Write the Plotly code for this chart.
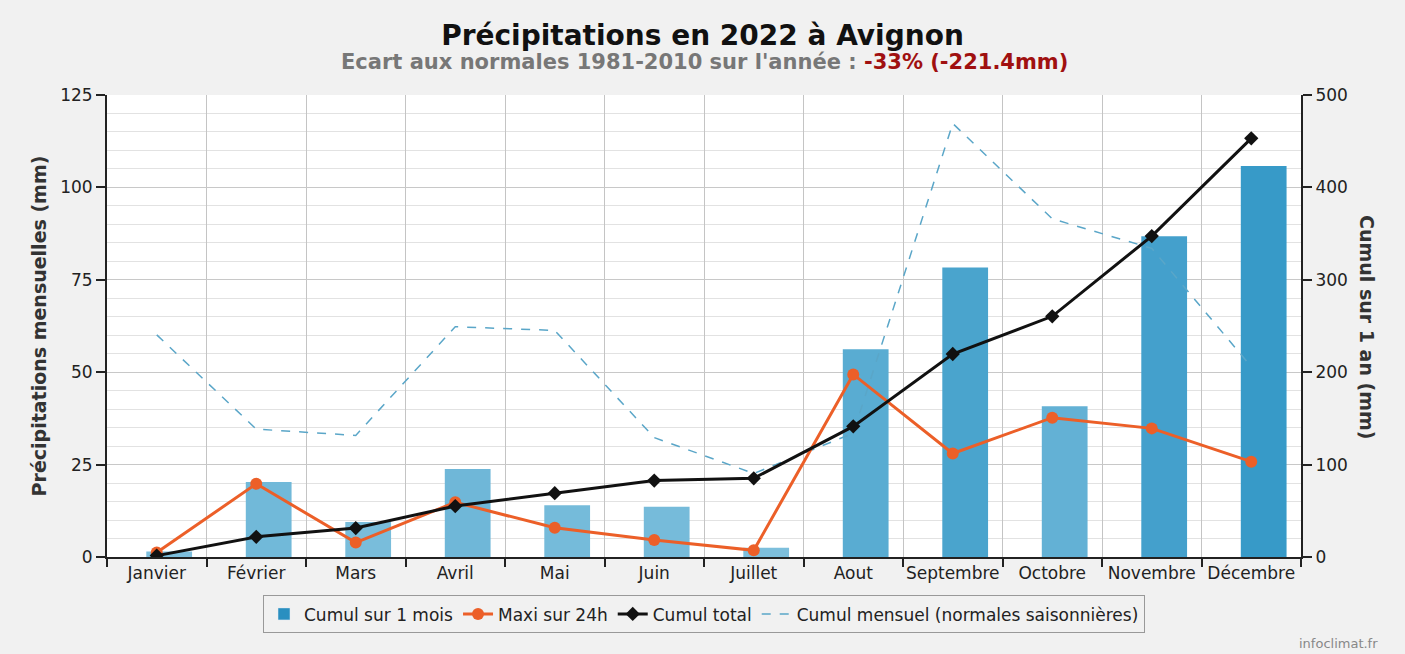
import plotly.graph_objects as go

months = ["Janvier", "Février", "Mars", "Avril", "Mai", "Juin", "Juillet",
          "Aout", "Septembre", "Octobre", "Novembre", "Décembre"]
cumul_mois = [1.5, 20.3, 9.5, 23.8, 14.0, 13.6, 2.5, 56.2, 78.3, 40.8, 86.8, 105.8]
maxi_24h = [1.2, 19.8, 3.9, 14.8, 7.9, 4.6, 1.8, 49.4, 28.0, 37.7, 34.8, 25.8]
cumul_total = [1.5, 21.8, 31.3, 55.1, 69.1, 82.7, 85.2, 141.4, 219.7, 260.5, 347.3, 453.1]
normales = [60.1, 34.6, 32.9, 62.3, 61.3, 32.3, 22.6, 33.5, 117.3, 91.5, 83.5, 51.5]

FONT = "DejaVu Sans"


def bar_color(v, vmax=110.0):
    lo = (127, 192, 221)
    hi = (52, 152, 199)
    t = max(0.0, min(1.0, v / vmax))
    c = [round(lo[i] + (hi[i] - lo[i]) * t) for i in range(3)]
    return "rgb({},{},{})".format(*c)


fig = go.Figure()

# legend proxy for the bars
fig.add_trace(go.Bar(x=[months[0]], y=[None], name="Cumul sur 1 mois",
                     marker=dict(color="#2a8fc0"), showlegend=True, legendrank=1))
fig.add_trace(go.Bar(x=months, y=cumul_mois, name="Cumul sur 1 mois",
                     marker=dict(color=[bar_color(v) for v in cumul_mois], line=dict(width=0)),
                     width=0.46, showlegend=False))
fig.add_trace(go.Scatter(x=months, y=normales, name="Cumul mensuel (normales saisonnières)",
                         mode="lines", line=dict(color="#5aa6c8", width=1.5, dash="dash"),
                         legendrank=4))
fig.add_trace(go.Scatter(x=months, y=maxi_24h, name="Maxi sur 24h", mode="lines+markers",
                         line=dict(color="#ec5f28", width=3),
                         marker=dict(color="#ec5f28", size=12, symbol="circle"),
                         legendrank=2))
fig.add_trace(go.Scatter(x=months, y=cumul_total, name="Cumul total", mode="lines+markers",
                         line=dict(color="#111111", width=3),
                         marker=dict(color="#111111", size=11, symbol="diamond"),
                         yaxis="y2", legendrank=3))

fig.update_layout(
    width=1405, height=654,
    margin=dict(l=107, r=104, t=95, b=97, autoexpand=False),
    paper_bgcolor="#f1f1f1",
    plot_bgcolor="#ffffff",
    font=dict(family=FONT, size=16, color="#222"),
    bargap=0.5,
    title=dict(text="<b>Précipitations en 2022 à Avignon</b>", x=0.5, xanchor="center",
               y=1 - 35 / 654, yanchor="middle", yref="container",
               font=dict(family=FONT, size=28, color="#111")),
    xaxis=dict(type="category", range=[-0.5, 11.5], tickson="boundaries",
               showgrid=True, gridcolor="#c4c4c4", gridwidth=1,
               ticks="outside", ticklen=8, tickcolor="#222", tickwidth=1.5,
               showline=True, linecolor="#222", linewidth=2, tickangle=0,
               tickfont=dict(family=FONT, size=17, color="#222"), fixedrange=True),
    yaxis=dict(range=[0, 125], tickvals=[0, 25, 50, 75, 100, 125],
               showgrid=True, gridcolor="#c8c8c8", gridwidth=1,
               minor=dict(dtick=5, showgrid=True, gridcolor="#e2e2e2", gridwidth=1),
               ticks="outside", ticklen=9, tickcolor="#222", tickwidth=1.5,
               showline=True, linecolor="#222", linewidth=2, zeroline=False,
               tickfont=dict(family=FONT, size=17, color="#222"),
               title=dict(text="<b>Précipitations mensuelles (mm)</b>", standoff=8,
                          font=dict(family=FONT, size=19, color="#333"))),
    yaxis2=dict(range=[0, 500], tickvals=[0, 100, 200, 300, 400, 500],
                overlaying="y", side="right", showgrid=False,
                ticks="outside", ticklen=9, tickcolor="#222", tickwidth=1.5,
                showline=True, linecolor="#222", linewidth=2, zeroline=False,
                tickfont=dict(family=FONT, size=17, color="#222")),
    legend=dict(orientation="h", x=0.5, xanchor="center", y=-0.083, yanchor="top",
                bgcolor="#f1f1f1", bordercolor="#999", borderwidth=1,
                font=dict(family=FONT, size=17, color="#222"),
                traceorder="normal", itemwidth=30, tracegroupgap=0),
    annotations=[
        dict(text="<b>Ecart aux normales 1981-2010 sur l'année : "
                  "<span style='color:#a01010'>-33% (-221.4mm)</span></b>",
             xref="paper", yref="paper", x=0.5, y=(557 - 62) / 462, xanchor="center",
             yanchor="middle", showarrow=False,
             font=dict(family=FONT, size=21, color="#777")),
        dict(text="<b>Cumul sur 1 an (mm)</b>", textangle=90,
             xref="paper", yref="paper", x=(1367 - 107) / 1194, y=(557 - 327) / 462,
             xanchor="center", yanchor="middle", showarrow=False,
             font=dict(family=FONT, size=19, color="#333")),
        dict(text="infoclimat.fr", xref="paper", yref="paper",
             x=(1338 - 107) / 1194, y=-(643 - 557) / 462, xanchor="center",
             yanchor="middle", showarrow=False,
             font=dict(family=FONT, size=13, color="#888")),
    ],
)

fig.write_html("out.html", config={"displayModeBar": False},
               post_script="document.body.style.margin='0';document.body.style.padding='0';"
                           "document.body.style.overflow='hidden';")
